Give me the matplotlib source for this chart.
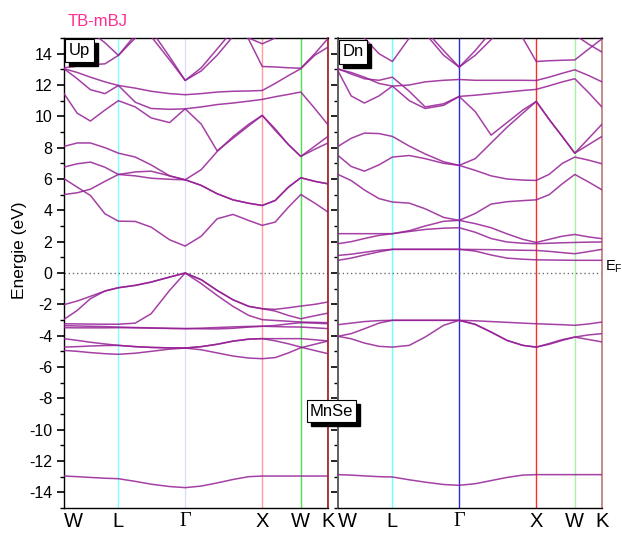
import matplotlib
matplotlib.use("Agg")
import matplotlib.pyplot as plt
from matplotlib.patches import Rectangle
from matplotlib.ticker import MultipleLocator

plt.rcParams['font.family'] = ['Liberation Sans', 'DejaVu Sans']

# k-path: W - L - Gamma - X - W - K (normalised path length)
k_nodes = [0.0, 0.206, 0.459, 0.751, 0.897, 1.0]
k_labels = ["W", "L", "Γ", "X", "W", "K"]
k_grid = [0.0, 0.05, 0.10, 0.155, 0.206, 0.27, 0.33, 0.40, 0.459,
          0.52, 0.58, 0.64, 0.70, 0.751, 0.80, 0.85, 0.897, 0.95, 1.0]

# spin up bands (eV) on k_grid
up_bands = [
    [-12.96, -13.0, -13.05, -13.1, -13.13, -13.3, -13.48, -13.63, -13.70, -13.6, -13.4, -13.18, -13.0, -12.96, -12.96, -12.96, -12.96, -12.96, -12.96],
    [-4.94, -5.0, -5.08, -5.15, -5.19, -5.12, -5.0, -4.86, -4.79, -4.9, -5.1, -5.3, -5.43, -5.47, -5.4, -5.1, -4.77, -4.55, -4.34],
    [-4.73, -4.7, -4.66, -4.63, -4.62, -4.7, -4.75, -4.78, -4.79, -4.7, -4.55, -4.35, -4.22, -4.19, -4.33, -4.52, -4.73, -4.95, -5.15],
    [-4.19, -4.3, -4.42, -4.53, -4.62, -4.7, -4.75, -4.78, -4.79, -4.7, -4.55, -4.35, -4.22, -4.19, -4.19, -4.19, -4.19, -4.26, -4.34],
    [-3.36, -3.38, -3.4, -3.42, -3.45, -3.48, -3.5, -3.53, -3.55, -3.52, -3.48, -3.44, -3.41, -3.40, -3.35, -3.25, -3.17, -3.2, -3.24],
    [-3.49, -3.5, -3.5, -3.5, -3.49, -3.5, -3.52, -3.54, -3.55, -3.56, -3.57, -3.53, -3.45, -3.40, -3.42, -3.44, -3.45, -3.5, -3.55],
    [-3.24, -3.25, -3.26, -3.27, -3.27, -3.2, -2.6, -1.11, 0.0, -0.68, -1.43, -2.13, -2.71, -2.98, -3.03, -3.08, -3.13, -3.15, -3.17],
    [-2.96, -2.39, -1.64, -1.15, -0.94, -0.79, -0.58, -0.26, 0.0, -0.43, -1.11, -1.71, -2.13, -2.28, -2.43, -2.71, -2.92, -2.73, -2.56],
    [-2.02, -1.79, -1.49, -1.15, -0.94, -0.79, -0.58, -0.26, 0.0, -0.43, -1.11, -1.71, -2.13, -2.28, -2.32, -2.22, -2.11, -2.0, -1.85],
    [6.02, 5.48, 4.95, 3.78, 3.31, 3.29, 2.93, 2.12, 1.72, 2.35, 3.46, 3.74, 3.35, 3.04, 3.25, 4.2, 5.01, 4.46, 3.89],
    [5.01, 5.12, 5.35, 5.85, 6.29, 6.2, 6.05, 5.98, 5.95, 5.59, 5.06, 4.67, 4.45, 4.31, 4.63, 5.48, 6.08, 5.85, 5.69],
    [6.76, 6.97, 7.08, 6.75, 6.29, 6.45, 6.5, 6.2, 5.95, 6.6, 7.75, 8.7, 9.5, 10.06, 9.2, 8.2, 7.44, 8.1, 8.72],
    [8.08, 8.3, 8.3, 8.0, 7.65, 7.4, 6.9, 6.2, 5.95, 5.59, 5.06, 4.67, 4.45, 4.31, 4.63, 5.48, 6.08, 5.85, 5.69],
    [11.45, 10.2, 9.7, 10.4, 11.0, 10.6, 9.9, 9.6, 10.48, 9.5, 7.8, 8.6, 9.4, 10.06, 9.1, 8.2, 7.44, 7.9, 8.3],
    [13.04, 12.4, 11.7, 11.45, 11.97, 10.9, 10.5, 10.45, 10.48, 10.6, 10.75, 10.85, 10.97, 11.08, 11.25, 11.4, 11.55, 10.5, 9.46],
    [13.04, 12.8, 12.5, 12.2, 11.97, 11.8, 11.6, 11.45, 11.38, 11.45, 11.55, 11.6, 11.62, 11.65, 12.1, 12.6, 13.04, 13.9, 14.42],
    [17.0, 16.0, 15.4, 14.7, 13.89, 15.2, 15.1, 13.6, 12.29, 12.9, 13.9, 15.1, 16.0, 16.5, 16.5, 16.5, 16.5, 16.5, 16.5],
    [13.1, 13.2, 13.3, 13.35, 13.89, 15.0, 15.5, 13.8, 12.29, 13.1, 14.3, 15.5, 16.2, 16.5, 16.5, 16.5, 16.5, 16.5, 16.5],
    [16.5, 16.5, 16.5, 16.5, 16.5, 16.5, 16.5, 16.5, 16.5, 16.5, 16.5, 16.0, 14.9, 13.18, 13.15, 13.1, 13.07, 14.0, 14.97],
    [16.5, 16.5, 16.5, 16.5, 16.5, 16.5, 16.5, 16.5, 16.5, 16.5, 16.2, 15.5, 15.0, 14.63, 15.0, 16.0, 16.5, 16.5, 16.5],
]

# spin down bands (eV) on k_grid
dn_bands = [
    [-12.87, -12.9, -12.95, -13.0, -13.02, -13.2, -13.35, -13.5, -13.55, -13.45, -13.25, -13.05, -12.9, -12.87, -12.87, -12.87, -12.87, -12.87, -12.87],
    [-4.04, -4.2, -4.47, -4.68, -4.73, -4.62, -4.09, -3.34, -3.02, -3.28, -3.77, -4.3, -4.62, -4.73, -4.55, -4.3, -4.09, -4.25, -4.40],
    [-4.04, -3.87, -3.56, -3.2, -3.02, -3.02, -3.02, -3.02, -3.02, -3.28, -3.77, -4.3, -4.62, -4.73, -4.5, -4.25, -4.09, -3.95, -3.87],
    [-3.30, -3.2, -3.1, -3.04, -3.02, -3.02, -3.02, -3.02, -3.02, -3.05, -3.1, -3.15, -3.2, -3.24, -3.27, -3.3, -3.34, -3.25, -3.13],
    [0.81, 0.95, 1.15, 1.35, 1.51, 1.51, 1.51, 1.51, 1.51, 1.4, 1.15, 0.95, 0.88, 0.84, 0.83, 0.82, 0.81, 0.81, 0.81],
    [1.12, 1.2, 1.32, 1.45, 1.51, 1.51, 1.51, 1.51, 1.51, 1.5, 1.49, 1.47, 1.45, 1.44, 1.38, 1.3, 1.23, 1.37, 1.51],
    [1.87, 2.0, 2.2, 2.4, 2.51, 2.65, 2.78, 2.86, 2.89, 2.6, 2.2, 1.98, 1.9, 1.87, 1.9, 1.93, 1.95, 1.97, 1.98],
    [2.51, 2.51, 2.51, 2.51, 2.51, 2.7, 3.0, 3.3, 3.36, 3.15, 2.89, 2.5, 2.15, 1.95, 2.15, 2.35, 2.46, 2.3, 2.19],
    [6.29, 5.9, 5.3, 4.75, 4.53, 4.46, 4.1, 3.55, 3.36, 3.8, 4.4, 4.55, 4.62, 4.67, 5.0, 5.7, 6.29, 5.8, 5.31],
    [7.5, 6.8, 6.5, 6.9, 7.4, 7.5, 7.3, 7.0, 6.87, 6.55, 6.2, 6.0, 5.93, 5.91, 6.3, 7.0, 7.4, 7.2, 6.97],
    [8.08, 8.6, 8.93, 8.9, 8.72, 8.1, 7.6, 7.1, 6.87, 7.3, 8.3, 9.3, 10.2, 10.95, 9.8, 8.7, 7.65, 8.2, 8.72],
    [12.9, 11.3, 10.85, 11.3, 11.93, 11.0, 10.5, 10.7, 11.27, 10.3, 8.8, 9.6, 10.4, 10.95, 9.8, 8.7, 7.65, 8.6, 9.5],
    [13.05, 12.7, 12.4, 12.3, 12.5, 11.6, 10.6, 10.8, 11.27, 11.35, 11.45, 11.55, 11.65, 11.72, 11.95, 12.2, 12.4, 11.5, 10.59],
    [13.0, 12.8, 12.5, 12.1, 11.93, 12.0, 12.2, 12.3, 12.35, 12.3, 12.3, 12.3, 12.3, 12.29, 12.5, 12.75, 12.97, 12.6, 12.2],
    [16.5, 16.0, 15.0, 14.0, 13.5, 15.0, 15.3, 13.9, 13.14, 13.9, 14.9, 16.0, 16.5, 16.5, 16.5, 16.5, 15.2, 14.6, 14.1],
    [16.5, 16.5, 16.5, 16.5, 16.5, 16.5, 15.5, 14.2, 13.14, 14.2, 15.4, 16.2, 15.0, 13.5, 13.55, 13.58, 13.6, 14.3, 14.95],
]

band_color = "#951f95"
up_vlines = ["#80ffff", "#dcdcff", "#ff9c9c", "#50e050", "#a01818"]
dn_vlines = ["#70ffff", "#2a2ae0", "#ff2a2a", "#a8f0a8", "#c07878"]

W, H = 622, 534
fig = plt.figure(figsize=(W / 100, H / 100), dpi=100)


def px_rect(x0, y0, x1, y1):
    return [x0 / W, 1 - y1 / H, (x1 - x0) / W, (y1 - y0) / H]


ax_up = fig.add_axes(px_rect(64, 38, 328, 508))
ax_dn = fig.add_axes(px_rect(338, 38, 602, 508))

for ax, bands, vcols in ((ax_up, up_bands, up_vlines), (ax_dn, dn_bands, dn_vlines)):
    ax.set_xlim(0, 1)
    ax.set_ylim(-15, 15)
    for kx, c in zip(k_nodes[1:], vcols):
        ax.axvline(kx, color=c, lw=1.0, zorder=1)
    ax.axhline(0, color="#707070", lw=1.0, ls=(0, (1, 2)), zorder=1)
    for b in bands:
        ax.plot(k_grid, b, color=band_color, lw=1.1, alpha=0.85, zorder=3,
                solid_joinstyle="round")
    ax.set_xticks(k_nodes)
    ax.set_xticklabels(k_labels, fontsize=14.5)
    ax.tick_params(axis="x", length=0, pad=3)
    labels = ax.get_xticklabels()
    labels[0].set_horizontalalignment("left")
    labels[2].set_fontfamily("Liberation Serif")
    ax.yaxis.set_major_locator(MultipleLocator(2))
    ax.yaxis.set_minor_locator(MultipleLocator(1))
    ax.tick_params(axis="y", which="major", direction="out", length=5, width=1.2)
    ax.tick_params(axis="y", which="minor", direction="out", length=3, width=1.0)
    for s in ("top", "bottom", "left"):
        ax.spines[s].set_color("black")
        ax.spines[s].set_linewidth(1.0)
    ax.spines["right"].set_color(vcols[-1])
    ax.spines["right"].set_linewidth(1.2)

ax_up.set_yticks(range(-14, 15, 2))
ax_up.set_yticklabels([str(v) for v in range(-14, 15, 2)], fontsize=11.5)
ax_dn.set_yticks(range(-14, 15, 2))
ax_dn.set_yticklabels([])
ax_dn.spines["left"].set_color("#606060")
ax_dn.spines["left"].set_linewidth(1.4)

fig.text(19.5 / W, 1 - 250 / H, "Energie (eV)", fontsize=12.5, rotation=90,
         ha="center", va="center")
fig.text(68 / W, 1 - 22 / H, "TB-mBJ", color="#ff2d8f", fontsize=12,
         ha="left", va="center")
fig.text(605 / W, 1 - 267 / H, r"E$_{\mathregular{F}}$", fontsize=10.5,
         ha="left", va="center")


def shadow_box(x0, y0, x1, y1, text):
    fig.patches.append(Rectangle(((x0 + 4) / W, 1 - (y1 + 4) / H),
                                 (x1 - x0) / W, (y1 - y0) / H, transform=fig.transFigure,
                                 facecolor="black", edgecolor="black", zorder=5))
    fig.patches.append(Rectangle((x0 / W, 1 - y1 / H), (x1 - x0) / W, (y1 - y0) / H,
                                 transform=fig.transFigure, facecolor="white",
                                 edgecolor="black", lw=0.8, zorder=6))
    fig.text((x0 + x1) / 2 / W, 1 - (y0 + y1) / 2 / H, text, fontsize=12,
             ha="center", va="center", zorder=7)


shadow_box(65, 39, 94, 62, "Up")
shadow_box(339, 40, 367, 64, "Dn")
shadow_box(307, 400, 356, 422, "MnSe")

fig.savefig("out.png", dpi=100)
